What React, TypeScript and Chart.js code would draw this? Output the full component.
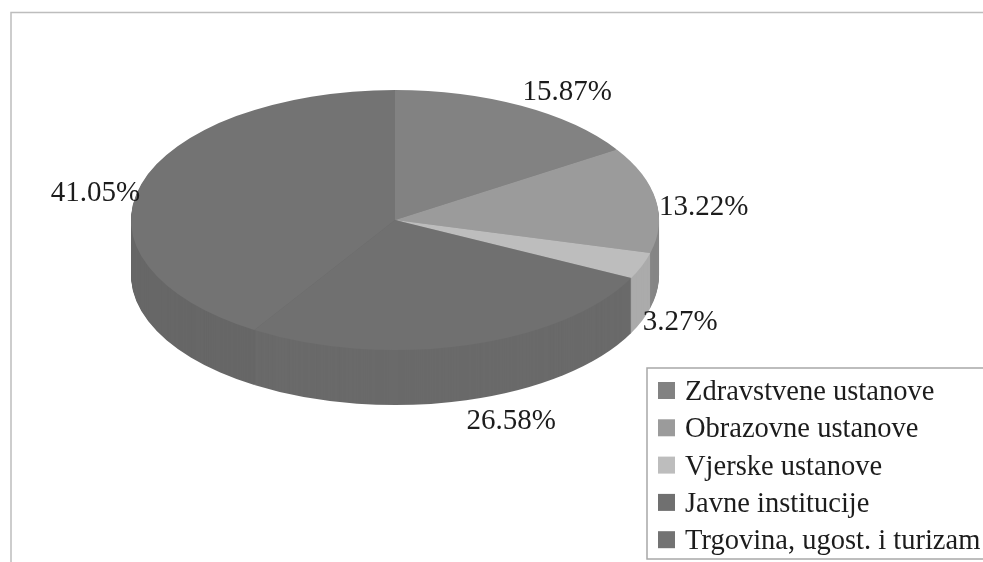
import React, { useEffect, useRef } from "react";
import { Chart, registerables } from "chart.js";

Chart.register(...registerables);

const categories = [
  "Zdravstvene ustanove",
  "Obrazovne ustanove",
  "Vjerske ustanove",
  "Javne institucije",
  "Trgovina, ugost. i turizam",
];
const shares = [15.87, 13.22, 3.27, 26.58, 41.05];
const topColors = ["#828282", "#9b9b9b", "#bdbdbd", "#707070", "#737373"];
const sideColors = ["#6e6e6e", "#868686", "#ababab", "#6a6a6a", "#676767"];
const labelOffsets = [
  [46, -13],
  [48, 8],
  [38, 57],
  [45, 76],
  [-46, 9],
];

const W = 983;
const H = 562;
const CY = 220;
const RY = 130;
const DEPTH = 55;
const SERIF = '"Liberation Serif", "Times New Roman", serif';

const pie3d = {
  id: "pie3d",
  beforeDraw(chart: any) {
    const { ctx } = chart;
    ctx.save();
    ctx.strokeStyle = "#bdbdbd";
    ctx.lineWidth = 1.5;
    ctx.beginPath();
    ctx.moveTo(W, 12.5);
    ctx.lineTo(11, 12.5);
    ctx.lineTo(11, H);
    ctx.stroke();
    ctx.restore();
  },
  beforeDatasetsDraw(chart: any) {
    const { ctx } = chart;
    const arcs = chart.getDatasetMeta(0).data;
    const first = arcs[0];
    const r = first.outerRadius;
    const k = RY / r;
    const apply = (dy: number) => {
      ctx.setTransform(1, 0, 0, k, 0, CY + dy - first.y * k);
    };
    ctx.save();
    for (let d = DEPTH; d >= 1; d--) {
      apply(d);
      arcs.forEach((arc: any, i: number) => {
        const saved = arc.options;
        arc.options = { ...saved, backgroundColor: sideColors[i], borderColor: sideColors[i], borderWidth: 0 };
        arc.draw(ctx);
        arc.options = saved;
      });
    }
    apply(0);
  },
  afterDatasetsDraw(chart: any) {
    const { ctx } = chart;
    ctx.restore();
    const arcs = chart.getDatasetMeta(0).data;
    ctx.save();
    ctx.fillStyle = "#1c1c1c";
    ctx.font = `29px ${SERIF}`;
    ctx.textAlign = "center";
    ctx.textBaseline = "middle";
    arcs.forEach((arc: any, i: number) => {
      const mid = (arc.startAngle + arc.endAngle) / 2;
      const x = arc.x + Math.cos(mid) * arc.outerRadius + labelOffsets[i][0];
      const y = CY + Math.sin(mid) * RY + labelOffsets[i][1];
      ctx.fillText(shares[i].toFixed(2) + "%", x, y);
    });

    const bx = 647;
    const by = 368;
    ctx.fillStyle = "#fff";
    ctx.fillRect(bx, by, W - bx, 191);
    ctx.strokeStyle = "#a8a8a8";
    ctx.lineWidth = 1.5;
    ctx.strokeRect(bx, by, W - bx + 4, 191);
    ctx.font = `28.5px ${SERIF}`;
    ctx.textAlign = "left";
    ctx.textBaseline = "alphabetic";
    categories.forEach((c, i) => {
      const y = 400 + i * 37.3;
      ctx.fillStyle = topColors[i];
      ctx.fillRect(658, y - 18, 17, 17);
      ctx.fillStyle = "#1c1c1c";
      ctx.fillText(c, 685, y);
    });
    ctx.restore();
  },
};

export default function App() {
  const ref = useRef<HTMLCanvasElement>(null);
  useEffect(() => {
    const chart = new Chart(ref.current!, {
      type: "pie",
      data: {
        labels: categories,
        datasets: [
          {
            data: shares,
            backgroundColor: topColors,
            borderWidth: 0,
            clip: false,
          } as any,
        ],
      },
      options: {
        responsive: false,
        animation: false,
        layout: { padding: { left: 131, right: 324, top: 17, bottom: 17 } },
        plugins: { legend: { display: false }, tooltip: { enabled: false } },
      },
      plugins: [pie3d],
    });
    return () => chart.destroy();
  }, []);
  return (
    <canvas
      ref={ref}
      width={W}
      height={H}
      style={{ position: "fixed", left: 0, top: 0, width: W, height: H }}
    />
  );
}
